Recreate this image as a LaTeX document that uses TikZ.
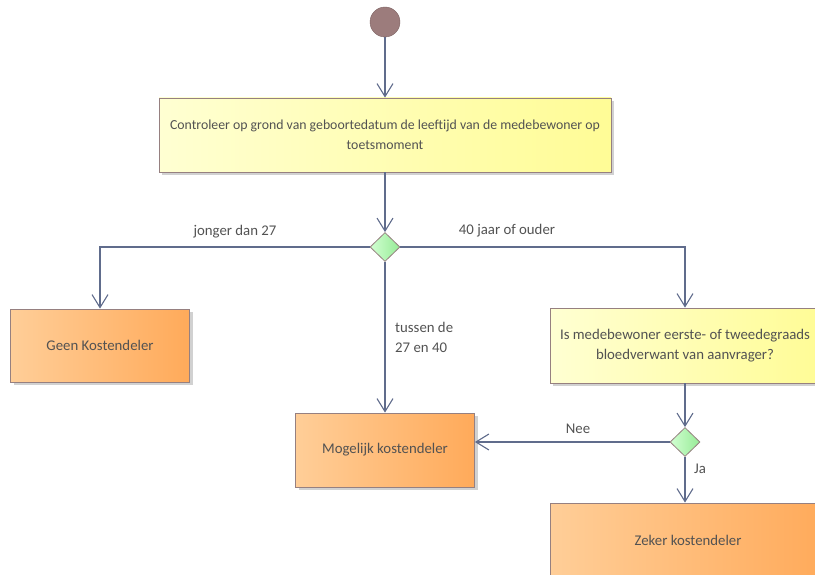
\documentclass[tikz,border=0pt]{standalone}
\usepackage{fontspec}
\setmainfont{Carlito}
\definecolor{lijn}{RGB}{96,108,140}
\definecolor{rand}{RGB}{150,128,128}
\definecolor{tekst}{RGB}{82,82,82}
\definecolor{geelL}{RGB}{255,255,210}
\definecolor{geelR}{RGB}{255,252,150}
\definecolor{oranjeL}{RGB}{255,206,152}
\definecolor{oranjeR}{RGB}{255,170,90}
\definecolor{groenL}{RGB}{210,255,210}
\definecolor{groenR}{RGB}{150,235,150}
\definecolor{startkleur}{RGB}{156,124,124}
\usetikzlibrary{arrows.meta,shapes.geometric,shadows}

\begin{document}
\begin{tikzpicture}[x=1pt, y=-1pt,
    every node/.style={text=tekst, font=\fontsize{14.8}{20}\selectfont},
    actie/.style={draw=rand, line width=0.8pt, shading=axis, left color=geelL, right color=geelR,
                  align=center, inner sep=2pt,
                  drop shadow={shadow xshift=3pt, shadow yshift=-3pt, fill=black, opacity=0.18}},
    uitkomst/.style={actie, left color=oranjeL, right color=oranjeR},
    keuze/.style={diamond, draw=rand, line width=0.8pt, shading=axis, left color=groenL, right color=groenR,
                  inner sep=0pt, minimum width=30pt, minimum height=29pt},
    pijl/.style={draw=lijn, line width=1.1pt, -{Straight Barb[length=13pt, width=16pt, line width=1.1pt]}},
    lbl/.style={inner sep=1pt}]
    \clip (0,0) rectangle (815,575);
    \useasboundingbox (0,0) rectangle (815,575);
    % startpunt
    \node[circle, fill=startkleur, draw=startkleur!80!black, minimum size=30pt, inner sep=0pt] (start) at (385,22) {};
    % acties en keuzes
    \node[actie, minimum width=452pt, minimum height=74pt, font=\fontsize{13.8}{20}\selectfont] (controle) at (385,135)
        {Controleer op grond van geboortedatum de leeftijd van de medebewoner op\\toetsmoment};
    \node[keuze] (leeftijd) at (385,247) {};
    \node[uitkomst, minimum width=179pt, minimum height=73pt] (geen) at (100,345.5) {Geen Kostendeler};
    \node[uitkomst, minimum width=179pt, minimum height=74pt] (mogelijk) at (385,450) {Mogelijk kostendeler};
    \node[actie, minimum width=270pt, minimum height=75pt] (verwant) at (685,345.5)
        {Is medebewoner eerste- of tweedegraads\\bloedverwant van aanvrager?};
    \node[keuze] (bloed) at (685,442) {};
    \node[uitkomst, minimum width=276pt, minimum height=74pt] (zeker) at (688,540) {Zeker kostendeler};
    % verbindingen
    \draw[pijl] (start) -- (controle);
    \draw[pijl] (controle) -- (leeftijd);
    \draw[pijl] (leeftijd.west) -| (geen.north);
    \draw[pijl] (leeftijd.east) -| (verwant.north);
    \draw[pijl] (leeftijd) -- (mogelijk);
    \draw[pijl] (verwant) -- (bloed);
    \draw[pijl] (bloed.west) -- (bloed.west -| mogelijk.east);
    \draw[pijl] (bloed.south) -- (bloed.south |- zeker.north);
    % labels
    \node[lbl] (ljong) at (235,232) {jonger dan 27};
    \node[lbl] (loud) at (507,231) {40 jaar of ouder};
    \node[lbl, anchor=west, align=left] (ltussen) at (394,337.5) {tussen de\\27 en 40};
    \node[lbl] (lnee) at (578,429) {Nee};
    \node[lbl, anchor=west] (lja) at (693,469) {Ja};
\end{tikzpicture}
\end{document}
